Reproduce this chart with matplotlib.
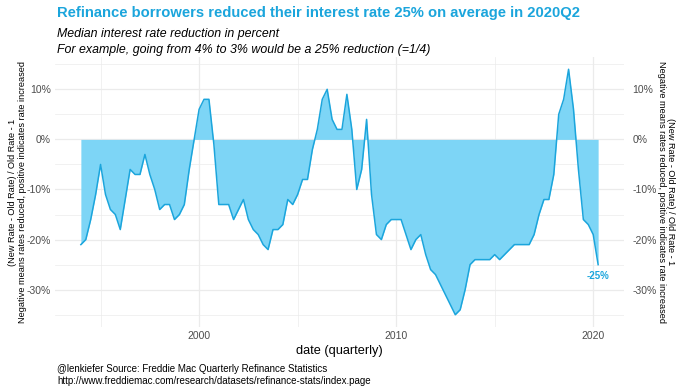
import matplotlib
matplotlib.use("Agg")
import matplotlib.pyplot as plt
import numpy as np

plt.rcParams['font.family'] = ['Liberation Sans', 'DejaVu Sans']

# quarterly data, 1994Q1 .. 2020Q2 (median % change in rate on refinance)
start_year = 1994
rate_change = [
    -21, -20, -16, -11, -5, -11, -14, -15, -18, -12,
    -6, -7, -7, -3, -7, -10, -14, -13, -13, -16,
    -15, -13, -6, 0, 6, 8, 8, -1, -13, -13,
    -13, -16, -14, -12, -16, -18, -19, -21, -22, -18,
    -18, -17, -12, -13, -11, -8, -8, -2, 2, 8,
    10, 4, 2, 2, 9, 2, -10, -6, 4, -11,
    -19, -20, -17, -16, -16, -16, -19, -22, -20, -19,
    -23, -26, -27, -29, -31, -33, -35, -34, -30, -25,
    -24, -24, -24, -24, -23, -24, -23, -22, -21, -21,
    -21, -21, -19, -15, -12, -12, -7, 5, 8, 14,
    6, -6, -16, -17, -19, -25,
]
dates = start_year + np.arange(len(rate_change)) / 4.0
vals = np.array(rate_change) / 100.0

x_major = [2000, 2010, 2020]
x_minor = [1995, 2005, 2015]
y_major = [-0.3, -0.2, -0.1, 0.0, 0.1]
y_minor = [-0.35, -0.25, -0.15, -0.05, 0.05, 0.15]
y_labels = ['-30%', '-20%', '-10%', '0%', '10%']

title = "Refinance borrowers reduced their interest rate 25% on average in 2020Q2"
subtitle = ("Median interest rate reduction in percent\n"
            "For example, going from 4% to 3% would be a 25% reduction (=1/4)")
ylab = ("(New Rate - Old Rate) / Old Rate - 1\n"
        "Negative means rates reduced, positive indicates rate increased")
caption = ("@lenkiefer Source: Freddie Mac Quarterly Refinance Statistics\n"
           "http://www.freddiemac.com/research/datasets/refinance-stats/index.page")

blue = '#1BA5DC'
fill = '#7DD5F6'
grid = '#EBEBEB'
tick_col = '#4D4D4D'

fig = plt.figure(figsize=(6.8, 3.89), dpi=100)
ax = fig.add_axes([55/680, 1 - 327/389, (624-55)/680, (327-57)/389])

ax.fill_between(dates, 0, vals, color=fill, linewidth=0, interpolate=True)
ax.plot(dates, vals, color=blue, linewidth=1.1)
ax.text(dates[-1], vals[-1] - 0.013, "-25%", color=blue, fontsize=7,
        fontweight='bold', ha='center', va='top')

span = dates[-1] - dates[0]
ax.set_xlim(dates[0] - 0.05 * span, dates[-1] + 0.05 * span)
yspan = vals.max() - vals.min()
ylim = (vals.min() - 0.05 * yspan, vals.max() + 0.05 * yspan)
ax.set_ylim(*ylim)

ax.set_xticks(x_major)
ax.set_xticks(x_minor, minor=True)
ax.set_yticks(y_major)
ax.set_yticks(y_minor, minor=True)
ax.set_yticklabels(y_labels)
ax.grid(True, which='major', color=grid, linewidth=0.9)
ax.grid(True, which='minor', color=grid, linewidth=0.5)
ax.set_axisbelow(True)
for s in ax.spines.values():
    s.set_visible(False)
ax.tick_params(which='both', length=0, labelsize=7.5, labelcolor=tick_col, pad=3)
ax.set_xlabel("date (quarterly)", fontsize=9.2, labelpad=3)
ax.set_ylabel(ylab, fontsize=6.6, linespacing=1.1, va='center')
ax.yaxis.set_label_coords(-0.066, 0.5)

ax2 = ax.twinx()
ax2.set_ylim(*ylim)
ax2.set_yticks(y_major)
ax2.set_yticklabels(y_labels)
for s in ax2.spines.values():
    s.set_visible(False)
ax2.tick_params(length=0, labelsize=7.5, labelcolor=tick_col, pad=6)
ax2.set_ylabel(ylab, fontsize=6.6, linespacing=1.1, rotation=-90, va='center')
ax2.yaxis.set_label_coords(1.074, 0.5)

fig.text(57/680, 1 - 13/389, title, color=blue, fontsize=10.6,
         fontweight='bold', va='center', ha='left')
fig.text(57/680, 1 - 42/389, subtitle, fontsize=8.9, style='italic',
         va='center', ha='left', linespacing=1.35)
fig.text(57/680, 1 - 375/389, caption, fontsize=7.0, va='center', ha='left',
         linespacing=1.2)

fig.savefig("out.png", dpi=100)
